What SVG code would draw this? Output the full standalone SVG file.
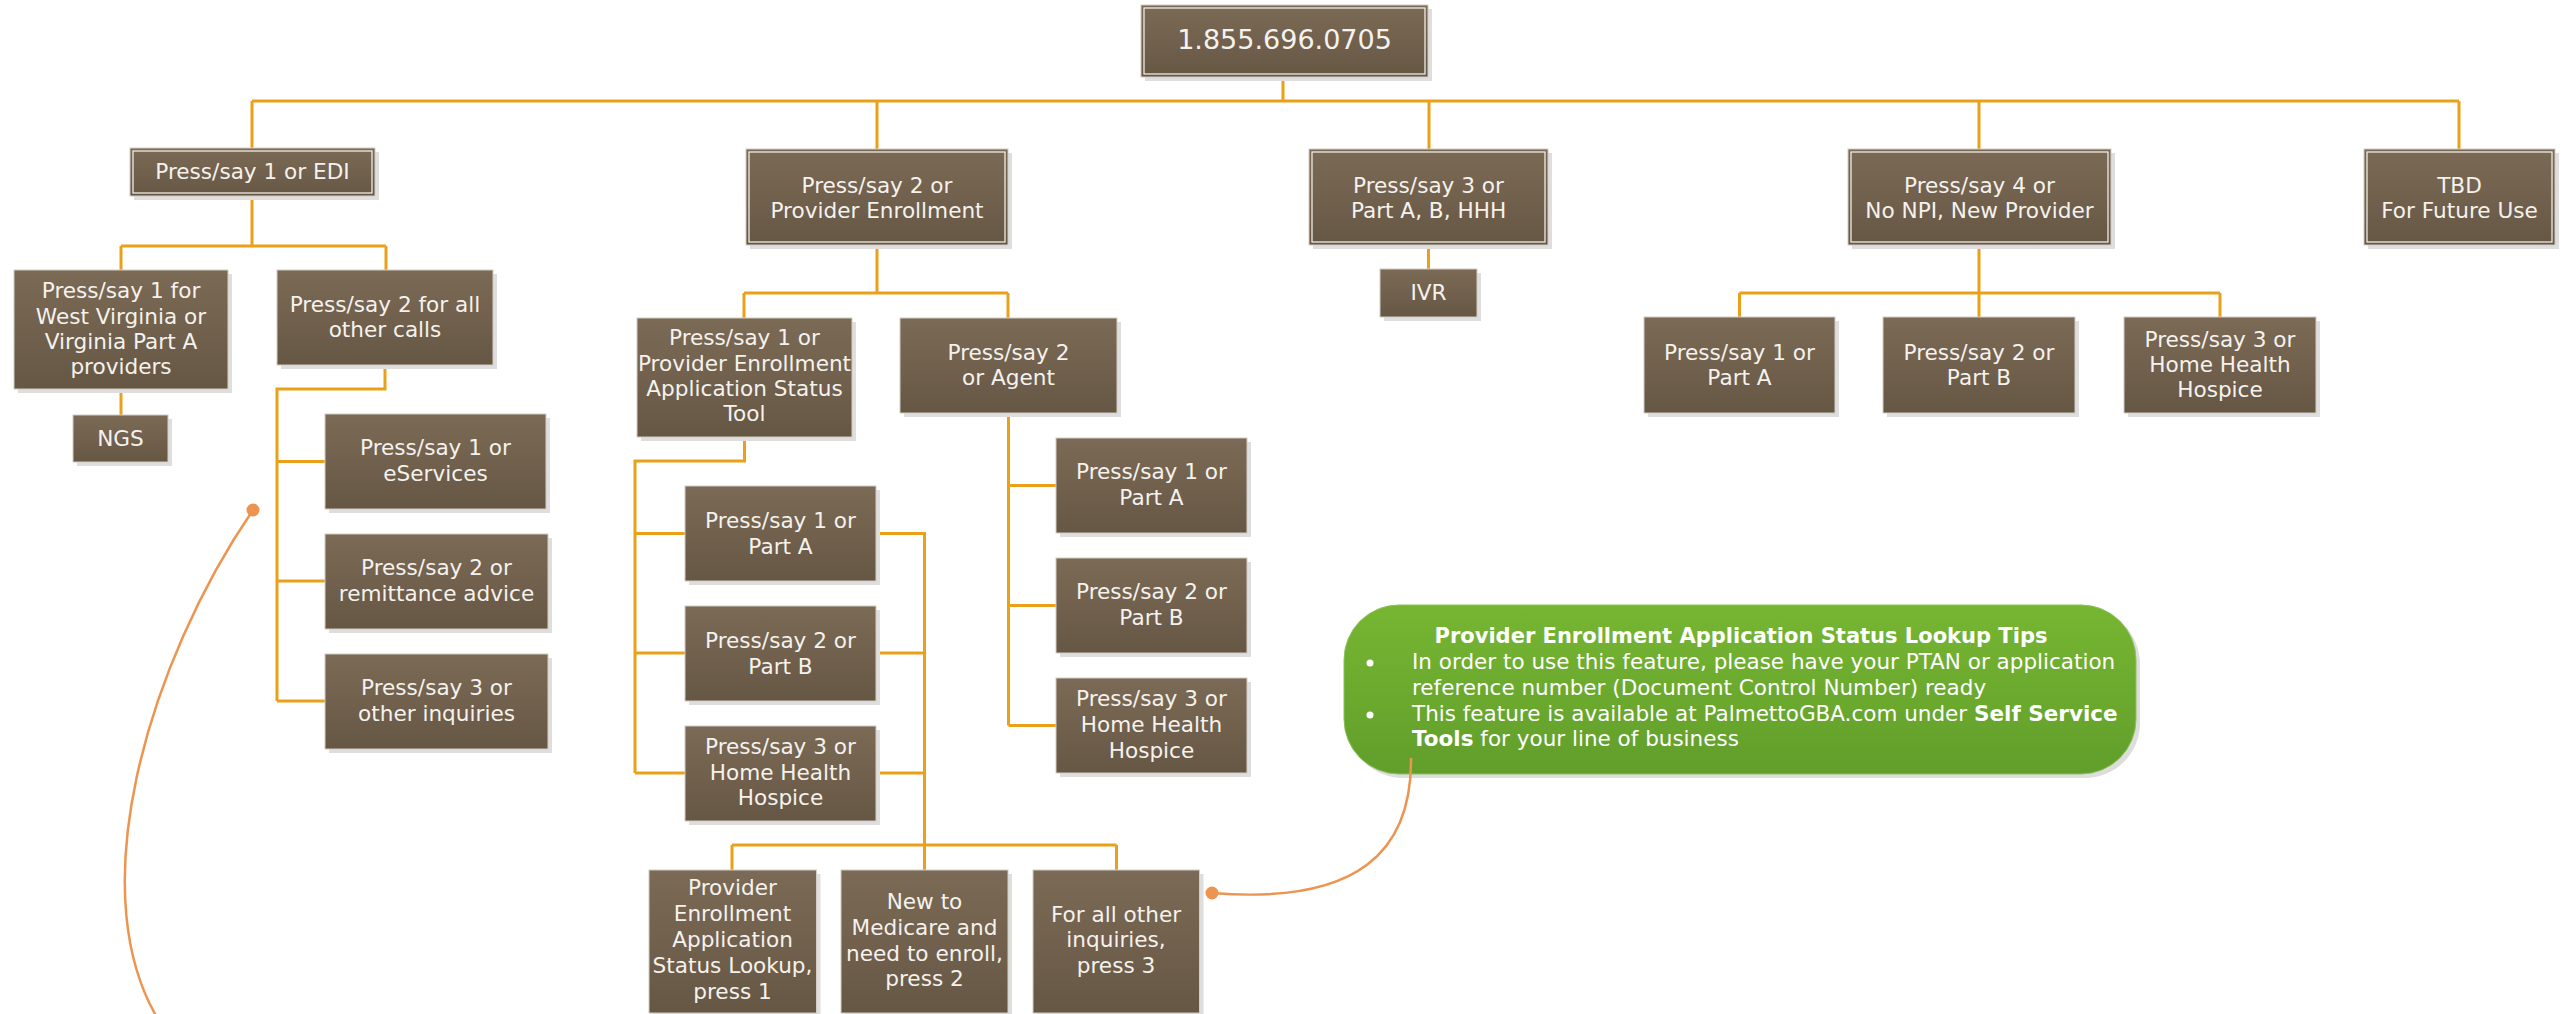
<svg xmlns="http://www.w3.org/2000/svg" width="2569" height="1014" viewBox="0 0 2569 1014">
<defs>
<linearGradient id="brown" x1="0" y1="0" x2="0" y2="1">
<stop offset="0" stop-color="#7B6A55"/>
<stop offset="1" stop-color="#665745"/>
</linearGradient>
<linearGradient id="green" x1="0" y1="0" x2="0" y2="1">
<stop offset="0" stop-color="#77B632"/>
<stop offset="1" stop-color="#619E2B"/>
</linearGradient>
<style>
.sh{fill:#DEDEDE}
.box{fill:url(#brown);stroke:#D4CDC4;stroke-width:1}
.inner{fill:none;stroke:#EFEBE5;stroke-width:1.3}
.t{font-family:"DejaVu Sans",Verdana,sans-serif;font-size:21.6px;fill:#F5F2EE;text-anchor:middle}
.conn{stroke:#EBA01A;stroke-width:3;fill:none}
.call{stroke:#EC9450;stroke-width:2.5;fill:none}
.dot{fill:#EC9450}
.nt{font-family:"DejaVu Sans",Verdana,sans-serif;font-size:21.5px;fill:#FFFFFF}
</style>
</defs>
<rect width="2569" height="1014" fill="#FFFFFF"/>

<g id="connectors">
<path class="conn" d="M1283,77 V101 M252,101 H2459 M252,101 V148 M877,101 V149 M1429,101 V149 M1979,101 V149 M2459,101 V149"/>
<path class="conn" d="M252,196 V246 M121,246 H386 M121,246 V270 M386,246 V270 M121,389 V415"/>
<path class="conn" d="M385,365 V389 H277 V701 M277,461.5 H325 M277,581 H325 M277,701 H325"/>
<path class="conn" d="M877,245 V293 M744,293 H1008 M744,293 V318 M1008,293 V318"/>
<path class="conn" d="M744.5,437 V461 H635 V773 M635,533.5 H685 M635,653 H685 M635,773 H685"/>
<path class="conn" d="M876,533.5 H924.5 V870 M876,653 H924.5 M876,773 H924.5 M732,845 H1116.5 M732,845 V870 M1116.5,845 V870"/>
<path class="conn" d="M1008.5,413 V725.5 M1008.5,485.5 H1056 M1008.5,605.5 H1056 M1008.5,725.5 H1056"/>
<path class="conn" d="M1428.5,245 V269 M1979,245 V317 M1739.5,293 H2220 M1739.5,293 V317 M2220,293 V317"/>
</g>

<g id="root">
<rect class="sh" x="1145" y="9" width="287" height="72"/>
<rect class="box" x="1141" y="5" width="287" height="72"/>
<rect class="inner" x="1144" y="8" width="281" height="66"/>
<text class="t" x="1284.5" y="48.5" style="font-size:27px">1.855.696.0705</text>
</g>

<g id="opt1-edi">
<rect class="sh" x="134" y="152" width="245" height="48"/>
<rect class="box" x="130" y="148" width="245" height="48"/>
<rect class="inner" x="133" y="151" width="239" height="42"/>
<text class="t" x="252.5" y="179">Press/say 1 or EDI</text>
</g>

<g id="opt2-enroll">
<rect class="sh" x="750" y="153" width="262" height="96"/>
<rect class="box" x="746" y="149" width="262" height="96"/>
<rect class="inner" x="749" y="152" width="256" height="90"/>
<text class="t" x="877" y="193">Press/say 2 or</text>
<text class="t" x="877" y="218">Provider Enrollment</text>
</g>

<g id="opt3-parts">
<rect class="sh" x="1313" y="153" width="239" height="96"/>
<rect class="box" x="1309" y="149" width="239" height="96"/>
<rect class="inner" x="1312" y="152" width="233" height="90"/>
<text class="t" x="1428.5" y="193">Press/say 3 or</text>
<text class="t" x="1428.5" y="218">Part A, B, HHH</text>
</g>

<g id="opt4-new">
<rect class="sh" x="1852" y="153" width="263" height="96"/>
<rect class="box" x="1848" y="149" width="263" height="96"/>
<rect class="inner" x="1851" y="152" width="257" height="90"/>
<text class="t" x="1979.5" y="193">Press/say 4 or</text>
<text class="t" x="1979.5" y="218">No NPI, New Provider</text>
</g>

<g id="tbd">
<rect class="sh" x="2368" y="153" width="191" height="96"/>
<rect class="box" x="2364" y="149" width="191" height="96"/>
<rect class="inner" x="2367" y="152" width="185" height="90"/>
<text class="t" x="2459.5" y="193">TBD</text>
<text class="t" x="2459.5" y="218">For Future Use</text>
</g>

<g id="edi-wv">
<rect class="sh" x="18" y="274" width="214" height="119"/>
<rect class="box" x="14" y="270" width="214" height="119"/>
<text class="t" x="121" y="298">Press/say 1 for</text>
<text class="t" x="121" y="323.5">West Virginia or</text>
<text class="t" x="121" y="349">Virginia Part A</text>
<text class="t" x="121" y="374">providers</text>
</g>

<g id="edi-ngs">
<rect class="sh" x="77" y="419" width="95" height="47"/>
<rect class="box" x="73" y="415" width="95" height="47"/>
<text class="t" x="120.5" y="446">NGS</text>
</g>

<g id="edi-other">
<rect class="sh" x="281" y="274" width="216" height="95"/>
<rect class="box" x="277" y="270" width="216" height="95"/>
<text class="t" x="385" y="312">Press/say 2 for all</text>
<text class="t" x="385" y="337">other calls</text>
</g>

<g id="edi-eservices">
<rect class="sh" x="329" y="418" width="221" height="95"/>
<rect class="box" x="325" y="414" width="221" height="95"/>
<text class="t" x="435.5" y="455">Press/say 1 or</text>
<text class="t" x="435.5" y="481">eServices</text>
</g>

<g id="edi-remittance">
<rect class="sh" x="329" y="538" width="223" height="95"/>
<rect class="box" x="325" y="534" width="223" height="95"/>
<text class="t" x="436.5" y="575">Press/say 2 or</text>
<text class="t" x="436.5" y="601">remittance advice</text>
</g>

<g id="edi-inquiries">
<rect class="sh" x="329" y="658" width="223" height="95"/>
<rect class="box" x="325" y="654" width="223" height="95"/>
<text class="t" x="436.5" y="695">Press/say 3 or</text>
<text class="t" x="436.5" y="721">other inquiries</text>
</g>

<g id="enroll-tool">
<rect class="sh" x="641" y="322" width="215" height="119"/>
<rect class="box" x="637" y="318" width="215" height="119"/>
<text class="t" x="744.5" y="345">Press/say 1 or</text>
<text class="t" x="744.5" y="370.5">Provider Enrollment</text>
<text class="t" x="744.5" y="396">Application Status</text>
<text class="t" x="744.5" y="421">Tool</text>
</g>

<g id="enroll-agent">
<rect class="sh" x="904" y="322" width="217" height="95"/>
<rect class="box" x="900" y="318" width="217" height="95"/>
<text class="t" x="1008.5" y="360">Press/say 2</text>
<text class="t" x="1008.5" y="385">or Agent</text>
</g>

<g id="tool-parta">
<rect class="sh" x="689" y="490" width="191" height="95"/>
<rect class="box" x="685" y="486" width="191" height="95"/>
<text class="t" x="780.5" y="528">Press/say 1 or</text>
<text class="t" x="780.5" y="554">Part A</text>
</g>

<g id="tool-partb">
<rect class="sh" x="689" y="610" width="191" height="95"/>
<rect class="box" x="685" y="606" width="191" height="95"/>
<text class="t" x="780.5" y="648">Press/say 2 or</text>
<text class="t" x="780.5" y="674">Part B</text>
</g>

<g id="tool-hhh">
<rect class="sh" x="689" y="730" width="191" height="95"/>
<rect class="box" x="685" y="726" width="191" height="95"/>
<text class="t" x="780.5" y="754">Press/say 3 or</text>
<text class="t" x="780.5" y="780">Home Health</text>
<text class="t" x="780.5" y="805">Hospice</text>
</g>

<g id="agent-parta">
<rect class="sh" x="1060" y="442" width="191" height="95"/>
<rect class="box" x="1056" y="438" width="191" height="95"/>
<text class="t" x="1151.5" y="479">Press/say 1 or</text>
<text class="t" x="1151.5" y="505">Part A</text>
</g>

<g id="agent-partb">
<rect class="sh" x="1060" y="562" width="191" height="95"/>
<rect class="box" x="1056" y="558" width="191" height="95"/>
<text class="t" x="1151.5" y="599">Press/say 2 or</text>
<text class="t" x="1151.5" y="625">Part B</text>
</g>

<g id="agent-hhh">
<rect class="sh" x="1060" y="682" width="191" height="95"/>
<rect class="box" x="1056" y="678" width="191" height="95"/>
<text class="t" x="1151.5" y="706">Press/say 3 or</text>
<text class="t" x="1151.5" y="732">Home Health</text>
<text class="t" x="1151.5" y="757.5">Hospice</text>
</g>

<g id="lookup-press1">
<rect class="sh" x="653" y="874" width="167.5" height="143"/>
<rect class="box" x="649" y="870" width="167.5" height="143"/>
<text class="t" x="732.5" y="895">Provider</text>
<text class="t" x="732.5" y="921">Enrollment</text>
<text class="t" x="732.5" y="947">Application</text>
<text class="t" x="732.5" y="972.5">Status Lookup,</text>
<text class="t" x="732.5" y="998.5">press 1</text>
</g>

<g id="new-press2">
<rect class="sh" x="845" y="874" width="167" height="143"/>
<rect class="box" x="841" y="870" width="167" height="143"/>
<text class="t" x="924.5" y="909">New to</text>
<text class="t" x="924.5" y="935">Medicare and</text>
<text class="t" x="924.5" y="960.5">need to enroll,</text>
<text class="t" x="924.5" y="986">press 2</text>
</g>

<g id="other-press3">
<rect class="sh" x="1037" y="874" width="166.5" height="143"/>
<rect class="box" x="1033" y="870" width="166.5" height="143"/>
<text class="t" x="1116" y="922">For all other</text>
<text class="t" x="1116" y="947">inquiries,</text>
<text class="t" x="1116" y="972.5">press 3</text>
</g>

<g id="ivr">
<rect class="sh" x="1384" y="273" width="97" height="48"/>
<rect class="box" x="1380" y="269" width="97" height="48"/>
<text class="t" x="1428.5" y="300">IVR</text>
</g>

<g id="new-parta">
<rect class="sh" x="1648" y="321" width="191" height="96"/>
<rect class="box" x="1644" y="317" width="191" height="96"/>
<text class="t" x="1739.5" y="360">Press/say 1 or</text>
<text class="t" x="1739.5" y="385">Part A</text>
</g>

<g id="new-partb">
<rect class="sh" x="1887" y="321" width="192" height="96"/>
<rect class="box" x="1883" y="317" width="192" height="96"/>
<text class="t" x="1979" y="360">Press/say 2 or</text>
<text class="t" x="1979" y="385">Part B</text>
</g>

<g id="new-hhh">
<rect class="sh" x="2128" y="321" width="192" height="96"/>
<rect class="box" x="2124" y="317" width="192" height="96"/>
<text class="t" x="2220" y="347">Press/say 3 or</text>
<text class="t" x="2220" y="372">Home Health</text>
<text class="t" x="2220" y="397">Hospice</text>
</g>

<g id="tips-note">
<rect x="1348" y="609" width="792" height="169" rx="55" ry="55" fill="#DDDDDD"/>
<rect x="1344" y="605" width="792" height="169" rx="55" ry="55" fill="url(#green)" stroke="#8CC257" stroke-width="1"/>
<text class="nt" x="1741" y="643" text-anchor="middle" font-weight="bold" style="font-size:21px">Provider Enrollment Application Status Lookup Tips</text>
<circle cx="1370" cy="663" r="3.5" fill="#FFFFFF"/>
<circle cx="1370" cy="715" r="3.5" fill="#FFFFFF"/>
<text class="nt" x="1412" y="669">In order to use this feature, please have your PTAN or application</text>
<text class="nt" x="1412" y="695">reference number (Document Control Number) ready</text>
<text class="nt" x="1412" y="720.5">This feature is available at PalmettoGBA.com under <tspan font-weight="bold">Self Service</tspan></text>
<text class="nt" x="1412" y="746"><tspan font-weight="bold">Tools</tspan> for your line of business</text>
</g>

<g id="callouts">
<path class="call" d="M1411,758 C1412,850 1360,905 1212,893"/>
<circle class="dot" cx="1212" cy="893" r="6.5"/>
<path class="call" d="M253,510 C150,660 75,900 165,1030"/>
<circle class="dot" cx="253" cy="510" r="6.5"/>
</g>
</svg>
